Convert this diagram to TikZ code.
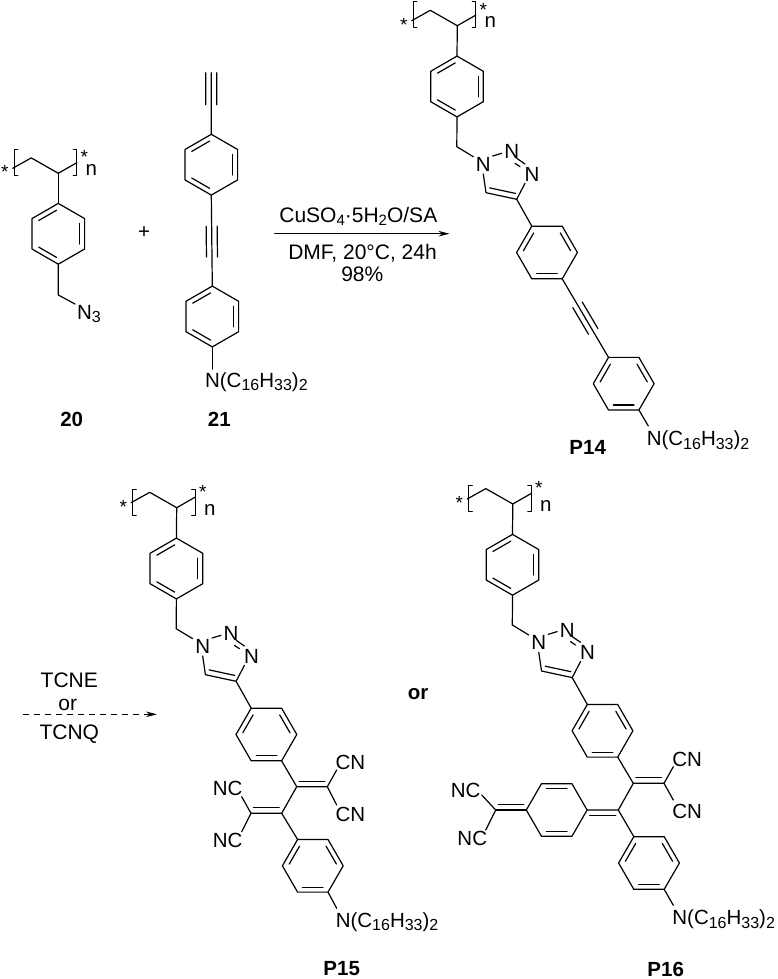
\documentclass[tikz,border=0pt]{standalone}
\usepackage{fontspec}
\setmainfont{Liberation Sans}
\usetikzlibrary{positioning,calc,arrows.meta}

\newcommand{\chemsub}[1]{\raisebox{-3.5pt}{\fontsize{16}{16}\selectfont #1}}
\newcommand{\reagsub}[1]{\raisebox{-3.5pt}{\fontsize{15}{15}\selectfont #1}}
\newcommand{\alkyl}{N(C\chemsub{16}H\chemsub{33})\chemsub{2}}
\newcommand{\innerbond}[3]{\draw[shorten <=2.5pt,shorten >=2.5pt] ($(#1)!5.5pt!#3:(#2)$) -- ($(#2)!5.5pt!-#3:(#1)$);}
\newcommand{\triplebond}[4]{%
  \draw ($(#1)!#3!(#2)!5.5pt!90:(#2)$) -- ($(#1)!#4!(#2)!5.5pt!90:(#2)$);
  \draw ($(#1)!#3!(#2)!5.5pt!-90:(#2)$) -- ($(#1)!#4!(#2)!5.5pt!-90:(#2)$);}

\tikzset{
  atom/.style={font=\fontsize{20.5}{22}\selectfont,inner sep=0pt},
  reagent/.style={font=\fontsize{21}{23}\selectfont,inner sep=0pt,anchor=base},
  starmark/.style={font=\fontsize{19}{20}\selectfont,inner sep=0pt},
  cmpd/.style={font=\bfseries\fontsize{20.5}{22}\selectfont,inner sep=0pt,anchor=base},
  % benzene ring standing on a vertex
  pics/vring/.style={code={
    \foreach \a/\n in {90/t,30/ur,-30/lr,-90/b,-150/ll,150/ul}
      \coordinate (-\n) at (\a:30.4pt);
    \draw (-t) -- (-ur) -- (-lr) -- (-b) -- (-ll) -- (-ul) -- cycle;
    \foreach \a in {90,-30,-150}
      \draw[shorten <=2pt,shorten >=2pt] (\a:24.6pt) -- (\a+60:24.6pt);
  }},
  % benzene ring lying on an edge
  pics/hring/.style={code={
    \foreach \a/\n in {120/tl,60/tr,0/r,-60/br,-120/bl,180/l}
      \coordinate (-\n) at (\a:30.4pt);
    \draw (-tl) -- (-tr) -- (-r) -- (-br) -- (-bl) -- (-l) -- cycle;
    \foreach \a in {0,120,240}
      \draw[shorten <=2pt,shorten >=2pt] (\a:24.6pt) -- (\a+60:24.6pt);
  }},
  % quinoid ring
  pics/qring/.style={code={
    \foreach \a/\n in {120/tl,60/tr,0/r,-60/br,-120/bl,180/l}
      \coordinate (-\n) at (\a:30.4pt);
    \draw (-tl) -- (-tr) -- (-r) -- (-br) -- (-bl) -- (-l) -- cycle;
    \foreach \a in {60,240}
      \draw[shorten <=2pt,shorten >=2pt] (\a:24.6pt) -- (\a+60:24.6pt);
  }},
  % polymer backbone, #1 = top of the brackets
  pics/polyback/.style={code={
    \coordinate (-c) at (0,0);
    \coordinate (-chl) at (-45.6,-5);
    \coordinate (-ch) at (-27,-15.4);
    \coordinate (-chr) at (18.5,-10.6);
    \draw (-chl) -- (-ch) -- (-c) -- (-chr);
    \draw (-40.5,#1) -- (-44,#1) -- (-44,#1+26) -- (-40.5,#1+26);
    \draw (15,#1) -- (18.5,#1) -- (18.5,#1+26) -- (15,#1+26);
    \node[starmark] (-sl) at (-53.5,-1) {*};
    \node[starmark] (-sr) at (26,-16) {*};
    \node[atom,anchor=base] (-n) at (33,#1+26.2) {n};
  }},
  % backbone, ring, triazole and aryl ring
  pics/clickunit/.style={code={
    \pic (-back) at (0,0) {polyback=#1};
    \pic (-ring) at (-0.3,60.8) {vring};
    \coordinate (-ch) at (-0.5,121);
    \coordinate (-nb) at (16,131);
    \node[atom,anchor=base] (-na) at (26,145.5) {N};
    \node[atom,anchor=base] (-nc) at (54.4,133.2) {N};
    \node[atom,anchor=base] (-nd) at (74.7,155.5) {N};
    \coordinate (-cd) at (59.4,173.6);
    \coordinate (-ce) at (28.7,167);
    \pic (-aryl) at (89.7,226.8) {hring};
    \draw (-back-c) -- (-ring-t);
    \draw (-ring-b) -- (-ch) -- (-nb);
    \draw (35.4,130.3) -- (44.4,127.6);
    \draw (59.4,132.6) -- (67.7,138.3);
    \draw (57.7,137.6) -- (62.7,141);
    \draw (26,148.3) -- (-ce) -- (-cd) -- (67.7,157.6);
    \innerbond{-ce}{-cd}{90}
    \draw (-cd) -- (-aryl-tl);
  }}
}

\begin{document}
\begin{tikzpicture}[x=1pt,y=-1pt,line width=1.2pt,line join=round,line cap=round]
  \useasboundingbox (0,0) rectangle (778,979);

  % monomer 20
  \pic (backa) at (58.3,173.3) {polyback=-23.6};
  \pic (ringa) at (58.3,233.8) {vring};
  \coordinate (cha) at (58.3,295);
  \coordinate (nba) at (75,304);
  \node[atom,anchor=base west] (aza) at (76.5,319.3) {N\chemsub{3}};
  \draw (backa-c) -- (ringa-t);
  \draw (ringa-b) -- (cha) -- (nba);
  \node[cmpd] (cmpda) at (71.7,426) {20};

  \node[atom] (plus) at (144,233) {+};

  % alkyne 21
  \coordinate (tipb) at (211.2,72.7);
  \pic (ringb) at (211.3,164.7) {vring};
  \pic (ringc) at (212.3,316.5) {vring};
  \coordinate (nbb) at (212.3,369);
  \node[atom,anchor=base west] (amb) at (204.5,387.2) {\alkyl};
  \draw (tipb) -- (ringb-t);
  \triplebond{tipb}{ringb-t}{0}{0.52}
  \draw (ringb-b) -- (ringc-t);
  \triplebond{ringb-b}{ringc-t}{0.34}{0.68}
  \draw (ringc-b) -- (nbb);
  \node[cmpd] (cmpdb) at (219.3,426) {21};

  % first reaction arrow
  \coordinate (arra) at (274.7,233.7);
  \coordinate (arrb) at (449.5,233.7);
  \path[-{Stealth[length=11pt,width=5.5pt]}] (arra) edge (arrb);
  \node[reagent] (cuso) at (358.3,222.3) {CuSO\reagsub{4}·5H\reagsub{2}O/SA};
  \node[reagent] (cond) at (362.5,259) {DMF, 20°C, 24h};
  \node[reagent] (yield) at (362.3,281) {98\%};

  % polymer P14
  \pic (pa) at (457.3,25.7) {clickunit=-24};
  \pic (ringd) at (623.7,383.7) {hring};
  \coordinate (nbd) at (648.3,426);
  \node[atom,anchor=base west] (amd) at (646.2,445.5) {\alkyl};
  \draw (pa-aryl-br) -- (ringd-tl);
  \triplebond{pa-aryl-br}{ringd-tl}{0.33}{0.67}
  \draw (ringd-br) -- (nbd);
  \node[cmpd] (cmpdd) at (587.7,454.5) {P14};

  % second reaction arrow
  \coordinate (arrc) at (23.3,714.3);
  \coordinate (arrd) at (157,714.3);
  \path[-{Stealth[length=11pt,width=5.5pt]},dash pattern=on 6pt off 5pt,line cap=butt] (arrc) edge (arrd);
  \node[reagent] (tcne) at (69.3,687.3) {TCNE};
  \node[reagent] (orc) at (67.7,710) {or};
  \node[reagent] (tcnq) at (69.3,739.3) {TCNQ};

  % polymer P15
  \pic (pb) at (176.7,507.7) {clickunit=-18.4};
  \coordinate (cea) at (296.7,786.7);
  \coordinate (ceb) at (327.3,786.7);
  \coordinate (cec) at (251,813.3);
  \coordinate (ced) at (281.7,813.3);
  \pic (ringe) at (312.8,865.8) {hring};
  \coordinate (nbe) at (336.7,908.3);
  \coordinate (cnea) at (336.7,770);
  \coordinate (cneb) at (336.7,805);
  \coordinate (ncea) at (241.7,796.7);
  \coordinate (nceb) at (241.7,831.7);
  \node[atom,anchor=base west] (cnae) at (335,769.5) {CN};
  \node[atom,anchor=base west] (cnbe) at (335,821.5) {CN};
  \node[atom,anchor=base east] (ncae) at (243,795.5) {NC};
  \node[atom,anchor=base east] (ncbe) at (243,847.2) {NC};
  \node[atom,anchor=base west] (ame) at (335.2,927.2) {\alkyl};
  \draw (pb-aryl-br) -- (cea) -- (ceb);
  \innerbond{cea}{ceb}{90}
  \draw (cnea) -- (ceb) -- (cneb);
  \draw (cea) -- (ced) -- (cec);
  \innerbond{cec}{ced}{90}
  \draw (ncea) -- (cec) -- (nceb);
  \draw (ced) -- (ringe-tl);
  \draw (ringe-br) -- (nbe);
  \node[cmpd] (cmpde) at (341.7,975.5) {P15};

  \node[cmpd] (orp) at (418,699) {or};

  % polymer P16
  \pic (pc) at (512.8,504) {clickunit=-18.4};
  \coordinate (cfa) at (633.3,783.3);
  \coordinate (cfb) at (664,783.3);
  \coordinate (cfc) at (618.3,810);
  \coordinate (cfd) at (495.7,810);
  \pic (ringq) at (556.7,810) {qring};
  \pic (ringf) at (649,863) {hring};
  \coordinate (nbf) at (673.3,905.3);
  \coordinate (cnfa) at (673.3,766.7);
  \coordinate (cnfb) at (673.3,800);
  \coordinate (ncfa) at (481.7,795);
  \coordinate (ncfb) at (485.7,830);
  \node[atom,anchor=base west] (cnaf) at (671.7,766.2) {CN};
  \node[atom,anchor=base west] (cnbf) at (671.7,818.2) {CN};
  \node[atom,anchor=base east] (ncaf) at (481,797.2) {NC};
  \node[atom,anchor=base east] (ncbf) at (487.7,845.5) {NC};
  \node[atom,anchor=base west] (amf) at (671.8,924.5) {\alkyl};
  \draw (pc-aryl-br) -- (cfa) -- (cfb);
  \innerbond{cfa}{cfb}{90}
  \draw (cnfa) -- (cfb) -- (cnfb);
  \draw (cfa) -- (cfc) -- (ringq-r);
  \innerbond{ringq-r}{cfc}{-90}
  \draw (ringq-l) -- (cfd);
  \innerbond{cfd}{ringq-l}{90}
  \draw (ncfa) -- (cfd) -- (ncfb);
  \draw (cfc) -- (ringf-tl);
  \draw (ringf-br) -- (nbf);
  \node[cmpd] (cmpdf) at (665.7,976) {P16};
\end{tikzpicture}
\end{document}
